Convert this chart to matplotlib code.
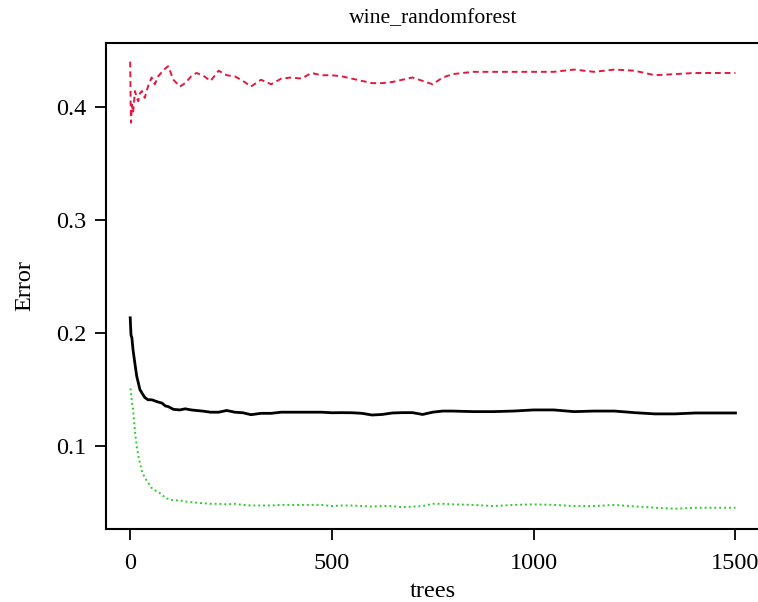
import matplotlib
matplotlib.use('Agg')
import matplotlib.pyplot as plt
import matplotlib as mpl

# Plot settings
mpl.rcParams['font.family'] = ['Liberation Serif', 'DejaVu Serif']
mpl.rcParams['font.size'] = 17.5

trees = [1, 2, 3, 5, 8, 13, 17, 21, 25, 30, 37, 45, 54, 62, 70, 80, 88, 95,
         108, 124, 137, 152, 165, 180, 200, 220, 240, 260, 280, 300, 325, 350,
         375, 400, 425, 450, 475, 500, 525, 550, 575, 600, 625, 650, 675, 700,
         725, 750, 775, 800, 850, 900, 950, 1000, 1050, 1100, 1150, 1200, 1250,
         1300, 1350, 1400, 1450, 1500]

oob = [0.2135, 0.205, 0.198, 0.196, 0.185, 0.172, 0.162, 0.156, 0.150, 0.147,
       0.143, 0.141, 0.141, 0.140, 0.139, 0.138, 0.1355, 0.135, 0.1325, 0.132,
       0.133, 0.132, 0.1315, 0.131, 0.130, 0.130, 0.1315, 0.130, 0.1295, 0.1278,
       0.129, 0.129, 0.130, 0.130, 0.130, 0.130, 0.130, 0.1295, 0.1296, 0.1295,
       0.129, 0.1275, 0.128, 0.1293, 0.1296, 0.1296, 0.128, 0.130, 0.131, 0.131,
       0.1305, 0.1305, 0.131, 0.132, 0.132, 0.1305, 0.131, 0.131, 0.1296, 0.1285,
       0.1285, 0.1293, 0.1293, 0.1293]

class1 = [0.440, 0.405, 0.386, 0.402, 0.395, 0.414, 0.408, 0.405, 0.412, 0.414,
          0.408, 0.418, 0.426, 0.420, 0.427, 0.431, 0.434, 0.436, 0.424, 0.418,
          0.421, 0.427, 0.430, 0.428, 0.423, 0.432, 0.428, 0.427, 0.423, 0.418,
          0.424, 0.420, 0.425, 0.426, 0.425, 0.430, 0.428, 0.428, 0.427, 0.425,
          0.423, 0.421, 0.421, 0.422, 0.424, 0.426, 0.423, 0.420, 0.426, 0.429,
          0.431, 0.431, 0.431, 0.431, 0.431, 0.433, 0.431, 0.433, 0.432, 0.428,
          0.429, 0.430, 0.430, 0.430]

class2 = [0.151, 0.150, 0.147, 0.139, 0.133, 0.112, 0.100, 0.0915, 0.085, 0.078,
          0.072, 0.068, 0.063, 0.061, 0.0595, 0.057, 0.054, 0.0534, 0.052, 0.052,
          0.051, 0.0505, 0.050, 0.0495, 0.049, 0.049, 0.0485, 0.049, 0.048, 0.0475,
          0.0475, 0.0475, 0.048, 0.048, 0.048, 0.048, 0.048, 0.047, 0.0475, 0.0475,
          0.047, 0.0465, 0.047, 0.047, 0.046, 0.0465, 0.047, 0.049, 0.049, 0.0485,
          0.048, 0.047, 0.048, 0.0485, 0.048, 0.047, 0.047, 0.048, 0.0467, 0.0455,
          0.0446, 0.0455, 0.0455, 0.0455]

xticks = [0, 500, 1000, 1500]
yticks = [0.1, 0.2, 0.3, 0.4]

fig = plt.figure(figsize=(7.58, 6.02), dpi=100)
ax = fig.add_axes([106/758, 73/602, 653.7/758, 486/602])

ax.plot(trees, oob, color='black', lw=2.0, ls='-')
ax.plot(trees, class1, color='#e2193f', lw=1.4, ls=(0, (3, 2)))
ax.plot(trees, class2, color='#2fcc2f', lw=1.4, ls=(0, (1, 1.5)))

ax.set_xlim(-59, 1560)
ax.set_ylim(0.0267, 0.4565)
ax.set_xticks(xticks)
ax.set_yticks(yticks)
ax.set_yticklabels(['0.1', '0.2', '0.3', '0.4'])

for s in ax.spines.values():
    s.set_linewidth(1.5)
ax.spines['right'].set_visible(False)  # falls just outside the picture
ax.tick_params(direction='out', length=8, width=1.3)
ax.tick_params(axis='x', pad=9)
ax.tick_params(axis='y', pad=6)

ax.set_title('wine_randomforest', fontsize=15.6, pad=14)
ax.set_xlabel('trees', labelpad=5)
ax.set_ylabel('Error', labelpad=15)

fig.savefig('out.png', dpi=100)
